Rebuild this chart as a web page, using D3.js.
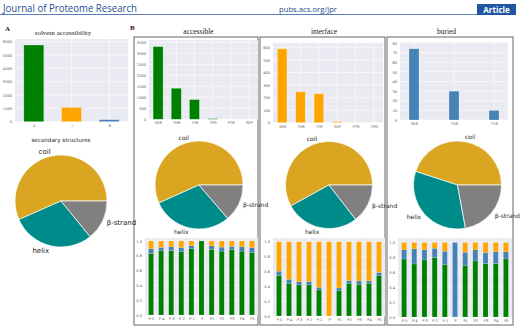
<!DOCTYPE html>
<html>
<head>
<meta charset="utf-8">
<script src="https://cdn.jsdelivr.net/npm/d3@7"></script>
<style>
  body { margin: 0; background: #fff; }
  svg { display: block; }
</style>
</head>
<body>
<div id="chart"></div>
<script>
// ---- data ----
const saCats = ["A", "I", "B"]
const saCounts = [5750, 1075, 150]

const ssLabels = ["coil", "helix", "β-strand", "-"]
const ssAll = [56.6, 29.3, 14.1, 0]
const ssAccessible = [56.7, 29.6, 13.7, 0]
const ssInterface = [58.0, 27.5, 14.5, 0]
const ssBuried = [45.0, 32.9, 22.1]

const accRes = ["SER", "THR", "TYR", "TPO", "PTR", "SEP"]
const accCounts = [3300, 1410, 895, 30, 0, 0]
const intRes = ["SER", "THR", "TYR", "SEP", "PTR", "TPO"]
const intCounts = [589, 246, 230, 8, 3, 0]
const burRes = ["SER", "THR", "TYR"]
const burCounts = [74, 30, 10]

const positions = ["P-5", "P-4", "P-3", "P-2", "P-1", "P", "P1", "P2", "P3", "P4", "P5"]
// fraction of each position that is accessible (A), buried (B), interface (I)
const accFracA = [0.831, 0.867, 0.867, 0.854, 0.894, 1.0, 0.885, 0.863, 0.885, 0.863, 0.845]
const accFracB = [0.063, 0.045, 0.054, 0.054, 0.041, 0, 0.050, 0.054, 0.041, 0.058, 0.063]
const accFracI = [0.106, 0.088, 0.079, 0.092, 0.065, 0, 0.065, 0.083, 0.074, 0.079, 0.092]
const intFracA = [0.545, 0.441, 0.419, 0.419, 0.351, 0, 0.338, 0.441, 0.428, 0.441, 0.545]
const intFracB = [0.059, 0.054, 0.045, 0.045, 0.036, 0, 0.040, 0.036, 0.045, 0.032, 0.041]
const intFracI = [0.396, 0.505, 0.536, 0.536, 0.613, 1.0, 0.622, 0.523, 0.527, 0.527, 0.414]
const burFracA = [0.779, 0.712, 0.766, 0.797, 0.703, 0, 0.694, 0.752, 0.716, 0.716, 0.779]
const burFracB = [0.122, 0.202, 0.135, 0.126, 0.180, 1.0, 0.175, 0.149, 0.149, 0.158, 0.095]
const burFracI = [0.099, 0.086, 0.099, 0.077, 0.117, 0, 0.131, 0.099, 0.135, 0.126, 0.126]

// ---- styles ----
const GREEN = "#008000", ORANGE = "#ffa500", BLUE = "#4682b4"
const ssColors = ["#daa520", "#008b8b", "#808080", "#f0f0f0"]
const PLOT_BG = "#eaeaf2"
const SANS = "'DejaVu Sans', sans-serif"
const SERIF = "'Liberation Serif', 'DejaVu Serif', serif"

const W = 523, H = 332
const svg = d3.select("#chart").append("svg")
    .attr("width", W).attr("height", H)
    .attr("viewBox", [0, 0, W, H])

// ---- journal header ----
svg.append("text").text("Journal of Proteome Research")
    .attr("x", 3).attr("y", 12)
    .attr("textLength", 134).attr("lengthAdjust", "spacingAndGlyphs")
    .style("font-family", "'Open Sans', sans-serif").style("font-size", "11px")
    .style("fill", "#1d4f91")
svg.append("text").text("pubs.acs.org/jpr")
    .attr("x", 279).attr("y", 12)
    .attr("textLength", 58).attr("lengthAdjust", "spacingAndGlyphs")
    .style("font-family", "'Open Sans', sans-serif").style("font-size", "8px")
    .style("fill", "#1d4f91")
svg.append("line").attr("x1", 0).attr("x2", 477).attr("y1", 14.5).attr("y2", 14.5)
    .attr("stroke", "#5a7fb8").attr("stroke-width", 1)
svg.append("rect").attr("x", 477).attr("y", 4).attr("width", 39).attr("height", 11)
    .attr("fill", "#1f56a3")
svg.append("text").text("Article")
    .attr("x", 496.5).attr("y", 12.6).attr("text-anchor", "middle")
    .style("font-family", "'Open Sans', sans-serif").style("font-size", "8px")
    .style("font-weight", "bold").style("fill", "#fff")

// panel letters
svg.append("text").text("A").attr("x", 5).attr("y", 31)
    .style("font-family", SERIF).style("font-size", "7px").style("font-weight", "bold").style("fill", "#3a1010")
svg.append("text").text("B").attr("x", 130).attr("y", 30)
    .style("font-family", SERIF).style("font-size", "7px").style("font-weight", "bold").style("fill", "#3a1010")

// frames around the three B columns
const frames = [[134, 37, 258, 325], [260, 37, 385, 325], [387, 37, 513, 325]]
frames.forEach(f => {
    svg.append("rect").attr("x", f[0]).attr("y", f[1])
        .attr("width", f[2] - f[0]).attr("height", f[3] - f[1])
        .attr("fill", "none").attr("stroke", "#666").attr("stroke-width", 1)
})

function title(text, x, y, font, size) {
    svg.append("text").text(text).attr("x", x).attr("y", y)
        .attr("text-anchor", "middle")
        .style("font-family", font).style("font-size", size + "px").style("fill", "#222")
}

// ---- simple seaborn-like bar chart ----
function barChart(cfg) {
    const g = svg.append("g")
    const x = d3.scalePoint().domain(cfg.cats).range([cfg.x0, cfg.x1]).padding(cfg.pad)
    const y = d3.scaleLinear().domain([0, cfg.yMax]).range([cfg.y1, cfg.y0])

    g.append("rect").attr("x", cfg.x0).attr("y", cfg.y0)
        .attr("width", cfg.x1 - cfg.x0).attr("height", cfg.y1 - cfg.y0).attr("fill", PLOT_BG)

    const ticks = d3.range(0, cfg.yMax + 1e-9, cfg.step)
    g.selectAll(".hg").data(ticks).join("line")
        .attr("x1", cfg.x0).attr("x2", cfg.x1)
        .attr("y1", d => y(d)).attr("y2", d => y(d))
        .attr("stroke", "#fff").attr("stroke-width", 0.6)
    g.selectAll(".vg").data(cfg.cats).join("line")
        .attr("x1", d => x(d)).attr("x2", d => x(d))
        .attr("y1", cfg.y0).attr("y2", cfg.y1)
        .attr("stroke", "#fff").attr("stroke-width", 0.6)

    if (cfg.stack) {
        const rows = cfg.cats.map((c, i) => ({cat: c, A: cfg.stack[0][i], B: cfg.stack[1][i], I: cfg.stack[2][i]}))
        const series = d3.stack().keys(["A", "B", "I"])(rows)
        const colors = {A: GREEN, B: BLUE, I: ORANGE}
        series.forEach(s => {
            g.selectAll(null).data(s).join("rect")
                .attr("x", d => x(d.data.cat) - cfg.barW / 2)
                .attr("y", d => y(d[1]))
                .attr("width", cfg.barW)
                .attr("height", d => Math.max(0, y(d[0]) - y(d[1])))
                .attr("fill", colors[s.key])
                .attr("stroke", "#fff").attr("stroke-opacity", 0.35).attr("stroke-width", 0.4)
        })
    } else {
        const col = Array.isArray(cfg.color) ? (i => cfg.color[i]) : (() => cfg.color)
        g.selectAll(null).data(cfg.cats).join("rect")
            .attr("x", d => x(d) - cfg.barW / 2)
            .attr("y", (d, i) => y(cfg.values[i]))
            .attr("width", cfg.barW)
            .attr("height", (d, i) => cfg.y1 - y(cfg.values[i]))
            .attr("fill", (d, i) => col(i))
            .attr("stroke", "#fff").attr("stroke-opacity", 0.45).attr("stroke-width", 0.6)
    }

    const yAxis = g.append("g").attr("transform", `translate(${cfg.x0},0)`)
        .call(d3.axisLeft(y).tickValues(ticks).tickSize(0).tickPadding(cfg.tickPad || 3)
            .tickFormat(cfg.fmt || d3.format("d")))
    const xAxis = g.append("g").attr("transform", `translate(0,${cfg.y1})`)
        .call(d3.axisBottom(x).tickSize(0).tickPadding(2.5))
    ;[yAxis, xAxis].forEach(a => {
        a.select(".domain").remove()
        a.selectAll("text").style("font-family", SANS).style("font-size", "3.6px").style("fill", "#555")
    })
}

// ---- pie with matplotlib-like layout (counter-clockwise from 3 o'clock) ----
function pieChart(cx, cy, r, values, labels, fs) {
    const g = svg.append("g").attr("transform", `translate(${cx},${cy})`)
    const arcs = d3.pie().sort(null)
        .startAngle(Math.PI / 2).endAngle(Math.PI / 2 - 2 * Math.PI)(values)
    const arc = d3.arc().innerRadius(0).outerRadius(r)
    g.selectAll("path").data(arcs.filter(d => d.value > 0)).join("path")
        .attr("d", arc)
        .attr("fill", d => ssColors[d.index])
        .attr("stroke", "#fff").attr("stroke-width", 0.7)
    g.selectAll("text").data(arcs).join("text")
        .text((d, i) => labels[i])
        .each(function (d) {
            const a = (d.startAngle + d.endAngle) / 2
            const px = Math.sin(a) * r * 1.1, py = -Math.cos(a) * r * 1.1
            d3.select(this).attr("x", px).attr("y", py)
                .attr("dy", "0.35em")
                .attr("text-anchor", px > 0.01 ? "start" : "end")
        })
        .style("font-family", SANS)
        .style("font-size", d => (d.value > 0 ? fs : 3) + "px")
        .style("fill", "#222")
}

// ---- panel A ----
title("solvent accessibility", 63, 35, SERIF, 7)
barChart({cats: saCats, values: saCounts, color: [GREEN, ORANGE, BLUE], x0: 15, x1: 128, y0: 39, y1: 121.7,
    yMax: 6200, step: 1000, pad: 0.5, barW: 20})
title("secondary structures", 61, 142, SANS, 5.6)
pieChart(61, 201, 46, ssAll, ssLabels, 7)

// ---- panel B ----
title("accessible", 198.5, 34, SERIF, 7.5)
title("interface", 324, 34, SERIF, 7.5)
title("buried", 446.5, 34, SERIF, 7.5)

barChart({cats: accRes, values: accCounts, color: GREEN, x0: 149, x1: 258, y0: 40, y1: 119.3,
    yMax: 3600, step: 500, pad: 0.5, barW: 10})
barChart({cats: intRes, values: intCounts, color: ORANGE, x0: 273, x1: 383, y0: 43, y1: 122.7,
    yMax: 635, step: 100, pad: 0.5, barW: 9.5})
barChart({cats: burRes, values: burCounts, color: BLUE, x0: 400, x1: 508, y0: 42, y1: 120,
    yMax: 81, step: 10, pad: 0.35, barW: 10})

pieChart(199, 185, 44, ssAccessible, ssLabels, 6)
pieChart(329, 185, 43.5, ssInterface, ssLabels, 6)
pieChart(457.5, 185, 44, ssBuried, ssLabels, 6)

const fmt1 = d3.format(".1f")
barChart({cats: positions, stack: [accFracA, accFracB, accFracI], x0: 145, x1: 258, y0: 238, y1: 315,
    yMax: 1.04, step: 0.2, pad: 0.6, barW: 5, fmt: fmt1})
barChart({cats: positions, stack: [intFracA, intFracB, intFracI], x0: 273, x1: 385, y0: 238, y1: 316,
    yMax: 1.05, step: 0.2, pad: 0.6, barW: 5, fmt: fmt1})
barChart({cats: positions, stack: [burFracA, burFracB, burFracI], x0: 398, x1: 512, y0: 238, y1: 317,
    yMax: 1.06, step: 0.2, pad: 0.6, barW: 5, fmt: fmt1})
</script>
</body>
</html>
